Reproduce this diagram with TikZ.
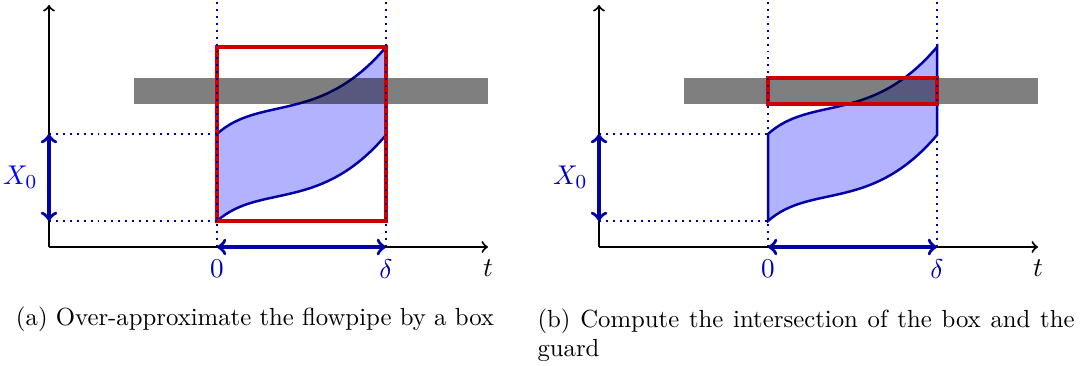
\documentclass[tikz,border=0pt]{standalone}
\usepackage{amsmath}
\begin{document}
\begin{tikzpicture}[x=0.404pt, y=-0.404pt,
    axis/.style={->, thick},
    guide/.style={dotted, thick, blue!65!black},
    span/.style={<->, line width=1.4pt, blue!65!black},
    pipe/.style={line width=1pt, draw=blue!65!black, fill=blue!30},
    guard/.style={fill=black, fill opacity=0.5},
    hull/.style={line width=1.3pt, red!80!black},
    mark label/.style={font=\fontsize{11}{13}\selectfont, inner sep=5pt},
    lbl/.style={mark label, text=blue!70!black}]
    \useasboundingbox (0,0) rectangle (1083,365);
    % (a) box around the whole flowpipe
    \begin{scope}[name prefix=a-]
        \coordinate (o) at (49,247);
        \coordinate (ytop) at (49,5);
        \coordinate (xend) at (488,247);
        \coordinate (zero) at (217,247);
        \coordinate (dlt) at (386,247);
        \coordinate (top0) at (217,2);
        \coordinate (topd) at (386,2);
        \coordinate (hi) at (49,134);
        \coordinate (lo) at (49,221);
        \coordinate (hi0) at (217,134);
        \coordinate (lo0) at (217,221);
        \draw[pipe] (hi0) .. controls (260,95) and (320,125) .. (386,47)
            -- (386,135) .. controls (320,213) and (260,183) .. (lo0) -- cycle;
        \fill[guard] (134,78) rectangle (488,104);
        \draw[hull] (217,47) rectangle (386,221);
        \draw[guide] (top0) -- (zero);
        \draw[guide] (topd) -- (dlt);
        \draw[guide] (hi) -- (hi0);
        \draw[guide] (lo) -- (lo0);
        \draw[axis] (o) -- (ytop);
        \draw[axis] (o) -- (xend);
        \draw[span] (hi) -- (lo) node[midway, left, mark label, text=blue, inner sep=4pt] (x0) {$X_0$};
        \draw[span] (zero) -- (dlt);
        \node[lbl, below] (l0) at (zero) {$0$};
        \node[lbl, below] (ld) at (dlt) {$\delta$};
        \node[mark label, below] (lt) at (xend) {$t$};
        \node[anchor=base] (cap) at (255,325) {(a) Over-approximate the flowpipe by a box};
    \end{scope}
    % (b) box cut down to the guard
    \begin{scope}[shift={(550,0)}, name prefix=b-]
        \coordinate (o) at (49,247);
        \coordinate (ytop) at (49,5);
        \coordinate (xend) at (488,247);
        \coordinate (zero) at (218,247);
        \coordinate (dlt) at (387,247);
        \coordinate (top0) at (218,2);
        \coordinate (topd) at (387,2);
        \coordinate (hi) at (49,134);
        \coordinate (lo) at (49,221);
        \coordinate (hi0) at (218,134);
        \coordinate (lo0) at (218,221);
        \draw[pipe] (hi0) .. controls (261,95) and (321,125) .. (387,47)
            -- (387,135) .. controls (321,213) and (261,183) .. (lo0) -- cycle;
        \fill[guard] (134,78) rectangle (488,104);
        \draw[hull] (218,78) rectangle (387,104);
        \draw[guide] (top0) -- (zero);
        \draw[guide] (topd) -- (dlt);
        \draw[guide] (hi) -- (hi0);
        \draw[guide] (lo) -- (lo0);
        \draw[axis] (o) -- (ytop);
        \draw[axis] (o) -- (xend);
        \draw[span] (hi) -- (lo) node[midway, left, mark label, text=blue!70!black, inner sep=4pt] (x0) {$X_0$};
        \draw[span] (zero) -- (dlt);
        \node[lbl, below] (l0) at (zero) {$0$};
        \node[lbl, below] (ld) at (dlt) {$\delta$};
        \node[mark label, below] (lt) at (xend) {$t$};
        \node[anchor=north west, text width=217pt, align=justify, inner sep=0pt] (cap) at (-13,308)
            {(b) Compute the intersection of the box and the guard};
    \end{scope}
\end{tikzpicture}
\end{document}
